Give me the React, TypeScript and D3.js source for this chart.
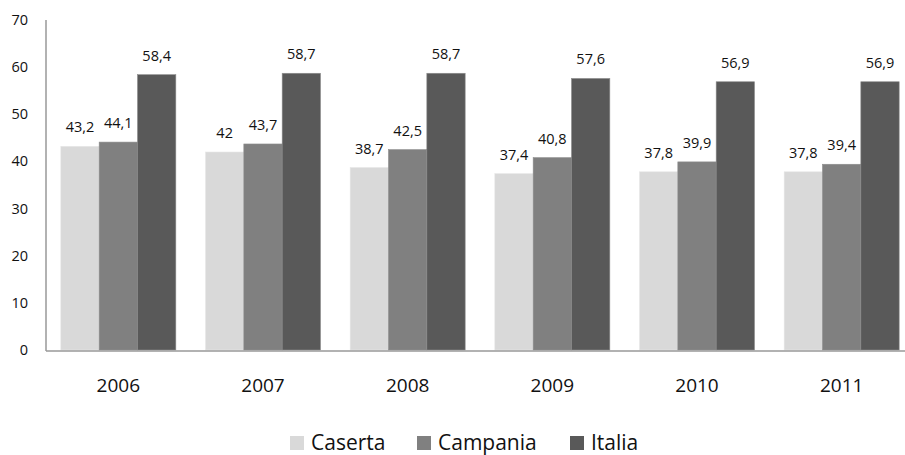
import React from "react";
import * as d3 from "d3";

const categories = ["2006", "2007", "2008", "2009", "2010", "2011"];
const seriesNames = ["Caserta", "Campania", "Italia"];
const caserta = [43.2, 42, 38.7, 37.4, 37.8, 37.8];
const campania = [44.1, 43.7, 42.5, 40.8, 39.9, 39.4];
const italia = [58.4, 58.7, 58.7, 57.6, 56.9, 56.9];
const yTicks = [0, 10, 20, 30, 40, 50, 60, 70];
const colors = ["#d9d9d9", "#808080", "#595959"];

const W = 905;
const H = 455;
const left = 46;
const right = 914;
const top = 20;
const bottom = 350;
const font = "'Open Sans', sans-serif";

export default function App() {
  const series = [caserta, campania, italia];
  const x = d3.scaleBand<string>().domain(categories).range([left, right]).paddingInner(0.205).paddingOuter(0.1025);
  const x1 = d3.scaleBand<string>().domain(seriesNames).range([0, x.bandwidth()]);
  const y = d3.scaleLinear().domain([0, 70]).range([bottom, top]);
  const fmt = (v: number) => String(v).replace(".", ",");
  const legendX = [290, 417, 570];

  return (
    <svg width={W} height={H} style={{ position: "absolute", left: 0, top: 0, background: "#fff" }}>
      {yTicks.map((t) => (
        <text key={t} x={28} y={y(t) + 5} textAnchor="end" fontFamily={font} fontSize={14.5} fill="#111">
          {t}
        </text>
      ))}
      {categories.map((c, i) => (
        <g key={c}>
          {series.map((s, j) => (
            <g key={j}>
              <rect
                x={(x(c) as number) + (x1(seriesNames[j]) as number)}
                y={y(s[i])}
                width={x1.bandwidth()}
                height={bottom - y(s[i])}
                fill={colors[j]}
                stroke={j === 0 ? "#e6e6e6" : "#8c8c8c"}
                strokeWidth={0.6}
              />
              <text
                x={(x(c) as number) + (x1(seriesNames[j]) as number) + x1.bandwidth() / 2}
                y={y(s[i]) - 14}
                textAnchor="middle"
                fontFamily={font}
                fontSize={14.5}
                fill="#111"
              >
                {fmt(s[i])}
              </text>
            </g>
          ))}
          <text
            x={(x(c) as number) + x.bandwidth() / 2}
            y={392}
            textAnchor="middle"
            fontFamily={font}
            fontSize={19}
            fill="#111"
          >
            {c}
          </text>
        </g>
      ))}
      <line x1={left} x2={left} y1={top} y2={bottom + 1} stroke="#999" strokeWidth={1.5} />
      <line x1={left} x2={W} y1={bottom + 1} y2={bottom + 1} stroke="#999" strokeWidth={1.5} />
      {seriesNames.map((n, j) => (
        <g key={n}>
          <rect x={legendX[j]} y={436} width={14} height={14} fill={colors[j]} />
          <text x={legendX[j] + 21} y={449.5} fontFamily={font} fontSize={21} fill="#111">
            {n}
          </text>
        </g>
      ))}
    </svg>
  );
}
